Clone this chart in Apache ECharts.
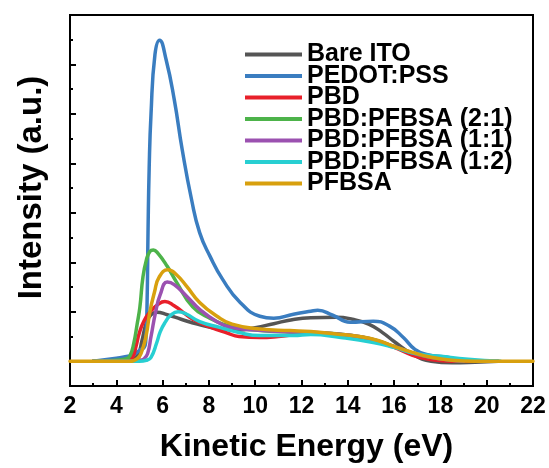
<!DOCTYPE html>
<html><head><meta charset="utf-8">
<script src="https://cdn.jsdelivr.net/npm/echarts@6/dist/echarts.min.js"></script>
<style>html,body{margin:0;padding:0;background:#fff}#c{width:549px;height:468px}</style>
</head><body><div id="c"></div>
<script>
const seriesNames = ['Bare ITO','PEDOT:PSS','PBD','PBD:PFBSA (2:1)','PBD:PFBSA (1:1)','PBD:PFBSA (1:2)','PFBSA'];
const colors = ['#555555','#3a7dc0','#e8202a','#4db34a','#9b51b0','#27cfd2','#d8a00e'];
const xTicks = [2,4,6,8,10,12,14,16,18,20,22];

const bareITO_E = [3.0,4.0,4.7,4.95,5.1,5.3,5.5,5.75,6.2,6.8,7.5,8.5,9.3,10.0,10.8,11.6,12.4,13.5,14.2,14.9,15.5,16.0,16.8,17.6,18.5,19.5,20.5];
const bareITO_I = [0,0.02,0.05,0.15,0.4,0.78,0.94,0.99,0.94,0.85,0.75,0.65,0.63,0.68,0.76,0.84,0.88,0.89,0.85,0.75,0.58,0.4,0.14,0.0,-0.03,-0.02,0];

const pedot_E = [3.0,4.0,4.5,4.8,5.0,5.2,5.27,5.33,5.37,5.42,5.5,5.67,5.87,6.15,6.5,6.85,7.25,7.6,8.05,8.6,9.35,10.2,10.8,11.65,12.4,12.7,13.35,14.1,15.1,15.8,16.4,16.9,17.4,18.3,19.3,20.5];
const pedot_I = [0,0.06,0.1,0.15,0.22,0.28,0.4,1.2,2.6,3.9,5.0,6.2,6.49,6.1,5.3,4.27,3.27,2.6,2.12,1.65,1.19,0.91,0.87,0.95,1.01,1.03,0.93,0.79,0.81,0.71,0.48,0.24,0.14,0.08,0.0,0.0];

const pbd_E = [3.0,4.0,4.5,4.7,4.85,5.0,5.2,5.45,5.8,6.1,6.5,7.0,7.3,8.0,8.8,9.3,10.2,11.0,12.0,13.0,14.0,15.0,16.0,16.8,17.5,18.5,19.5];
const pbd_I = [0,0.01,0.03,0.08,0.3,0.58,0.82,0.99,1.15,1.21,1.12,0.95,0.85,0.7,0.57,0.5,0.48,0.5,0.55,0.56,0.52,0.43,0.28,0.12,0.04,0,0];

const pbd21_E = [3.0,4.0,4.45,4.6,4.75,4.9,5.02,5.15,5.3,5.45,5.6,5.8,6.2,6.6,7.3,8.0,9.0,10.0,11.0,12.0,13.0,14.0,15.0,16.0,17.0,18.0,19.0];
const pbd21_I = [0,0.02,0.05,0.12,0.35,0.75,1.1,1.7,2.05,2.22,2.25,2.18,1.92,1.6,1.1,0.88,0.7,0.63,0.6,0.58,0.57,0.53,0.45,0.3,0.14,0.05,0.0];

const pbd11_E = [3.0,4.5,5.0,5.2,5.35,5.5,5.7,5.9,6.2,6.5,7.05,7.6,8.35,9.0,10.0,11.0,12.0,13.0,14.0,15.0,16.0,17.0,18.0,19.0];
const pbd11_I = [0,0,0.02,0.05,0.15,0.5,1.0,1.35,1.6,1.55,1.31,1.05,0.8,0.68,0.63,0.6,0.59,0.57,0.53,0.45,0.3,0.14,0.05,0];

const pbd12_E = [3.0,5.0,5.3,5.5,5.75,5.9,6.1,6.35,6.67,7.0,7.6,8.5,9.3,10.2,11.65,12.4,13.7,15.1,16.0,16.9,18.0,19.2,20.6];
const pbd12_I = [0,0,0.02,0.08,0.38,0.6,0.78,0.93,1.0,0.96,0.8,0.68,0.58,0.52,0.52,0.54,0.48,0.38,0.28,0.16,0.1,0.04,0];

const pfbsa_E = [2.0,4.5,4.9,5.1,5.3,5.45,5.65,5.85,6.23,6.6,7.05,7.6,8.35,9.0,10.2,11.5,12.4,13.5,14.5,15.3,16.0,16.8,17.6,18.5,19.5,22.0];
const pfbsa_I = [0,0,0.05,0.2,0.55,1.0,1.4,1.7,1.85,1.75,1.51,1.19,0.91,0.75,0.65,0.62,0.6,0.55,0.5,0.42,0.3,0.18,0.08,0.02,0,0];

const allE = [bareITO_E,pedot_E,pbd_E,pbd21_E,pbd11_E,pbd12_E,pfbsa_E];
const allI = [bareITO_I,pedot_I,pbd_I,pbd21_I,pbd11_I,pbd12_I,pfbsa_I];

const FONT = "'Liberation Sans', Arial, sans-serif";
const chart = echarts.init(document.getElementById('c'), null, {renderer:'canvas'});
const series = seriesNames.map((n,k)=>({
  name:n, type:'line', xAxisIndex:0, yAxisIndex:0,
  data: allE[k].map((e,i)=>[e, allI[k][i]]),
  showSymbol:false, symbol:'none', smooth:0.5,
  lineStyle:{width:3.5, color:colors[k], cap:'round', join:'round'}, itemStyle:{color:colors[k]},
  z: 2+k, animation:false
}));
chart.setOption({
  animation:false,
  grid:{left:70,right:16,top:15,bottom:81,show:true,borderColor:'#000',borderWidth:2},
  legend:{
    left:240, top:37, orient:'vertical', itemGap:-3.5, itemWidth:57, itemHeight:4, icon:'rect',
    textStyle:{fontFamily:FONT,fontWeight:'bold',fontSize:25,color:'#000',lineHeight:22},
    data:seriesNames
  },
  xAxis:{
    type:'value', min:2, max:22, interval:2,
    name:'Kinetic Energy (eV)', nameLocation:'middle', nameGap:45,
    nameTextStyle:{fontFamily:FONT,fontWeight:'bold',fontSize:32,color:'#000',padding:[0,0,0,10]},
    axisLine:{onZero:false,lineStyle:{color:'#000',width:2}},
    axisTick:{inside:true,length:6,lineStyle:{color:'#000',width:2}},
    minorTick:{show:true,splitNumber:2,length:3,lineStyle:{color:'#000',width:2}},
    axisLabel:{fontFamily:FONT,fontWeight:'bold',fontSize:23,color:'#000',margin:9},
    splitLine:{show:false}
  },
  yAxis:[{
    type:'value', min:-0.5, max:7, interval:0.5,
    name:'Intensity (a.u.)', nameLocation:'middle', nameGap:22,
    nameTextStyle:{fontFamily:FONT,fontWeight:'bold',fontSize:33,color:'#000',padding:[0,0,0,26]},
    axisLine:{onZero:false,lineStyle:{color:'#000',width:2}},
    axisTick:{inside:true,length:3,lineStyle:{color:'#000',width:2}},
    axisLabel:{show:false}, splitLine:{show:false}
  },{
    type:'value', min:-0.5, max:7, interval:0.5, position:'left',
    axisLine:{show:false},
    axisTick:{inside:true,length:6,customValues:[0,1,2,3,4,5,6,7],lineStyle:{color:'#000',width:2}},
    axisLabel:{show:false}, splitLine:{show:false}
  }],
  series:series
});
</script></body></html>
